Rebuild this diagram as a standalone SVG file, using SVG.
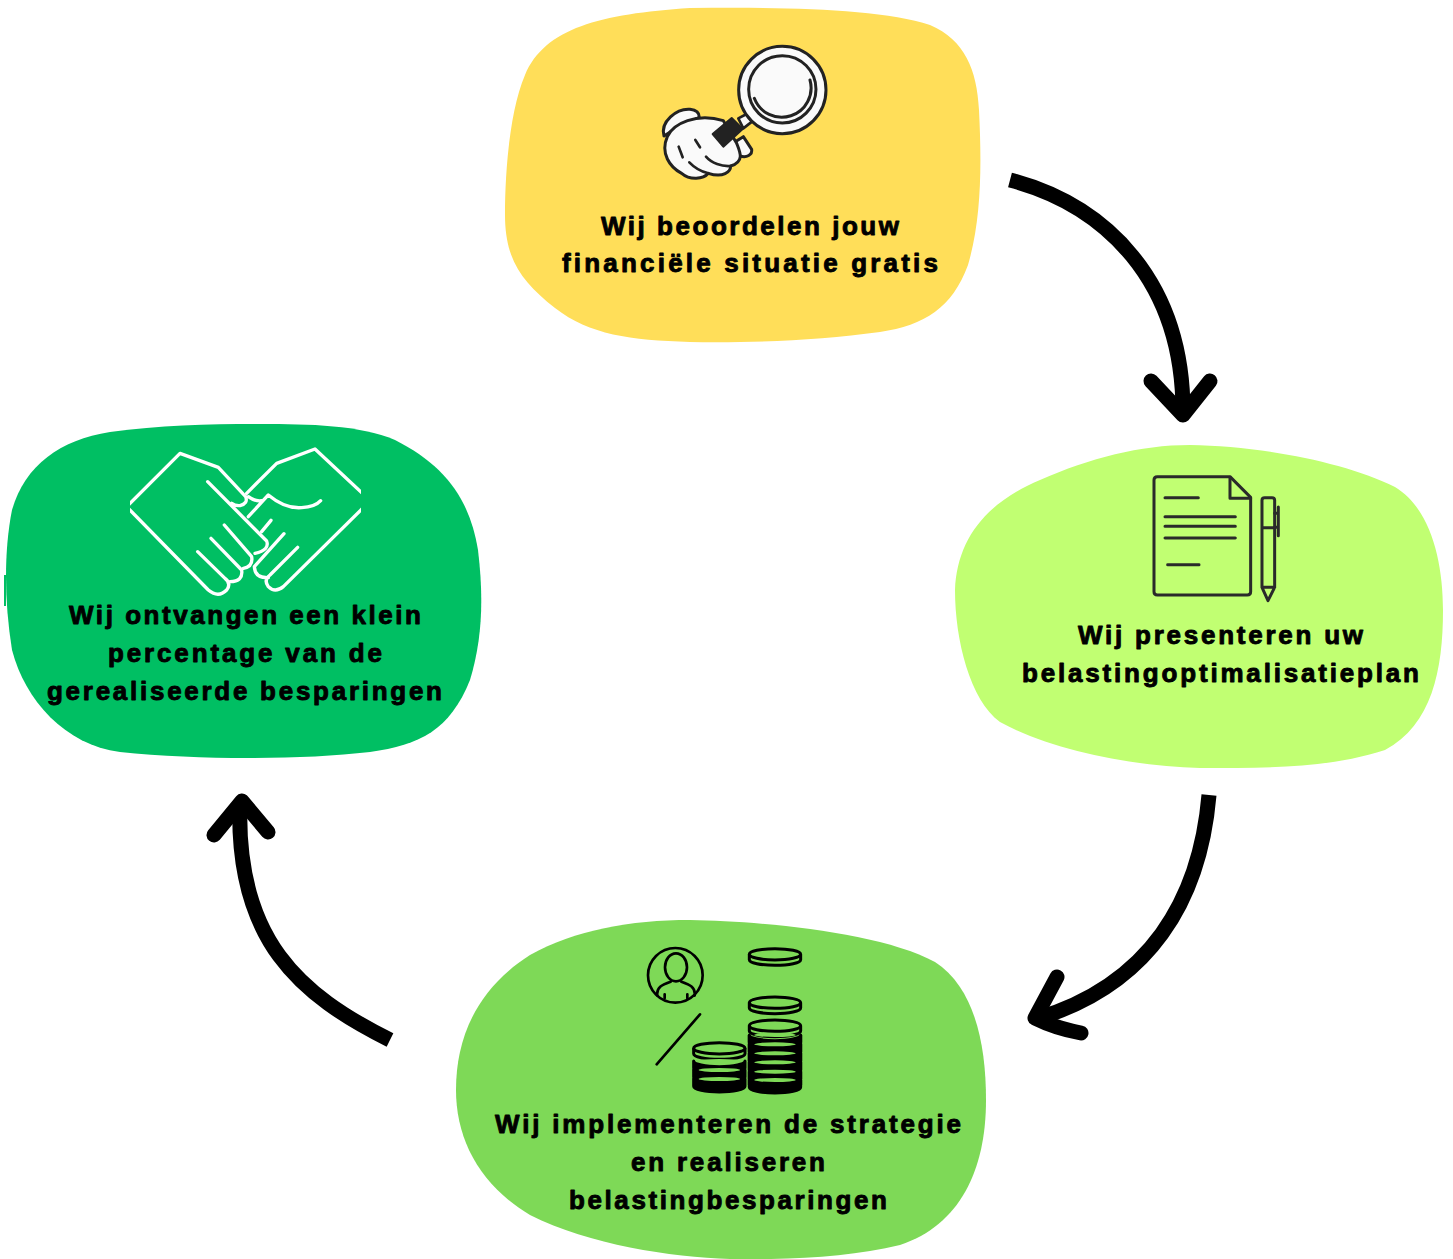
<svg xmlns="http://www.w3.org/2000/svg" width="1453" height="1259" viewBox="0 0 1453 1259">
<style>
text{font-family:"Liberation Sans",Arial,sans-serif;font-weight:700;font-size:26px;fill:#000;stroke:#000;stroke-width:.9;stroke-linejoin:round}
.ln{fill:none;stroke-linecap:round;stroke-linejoin:round}
.shaft{fill:none;stroke:#000;stroke-width:15}
.head{fill:none;stroke:#000;stroke-width:15;stroke-linecap:round;stroke-linejoin:round}
</style>
<defs>
<clipPath id="hc"><rect x="45" y="0" width="693" height="510"/></clipPath>
<g id="coin"><path d="M-77 0A77 17 0 0 1 77 0V16A77 17 0 0 1-77 16Z" fill="#7ED957" stroke="#000" stroke-width="9" stroke-linejoin="round"/><path d="M-77 0A77 17 0 0 0 77 0" fill="none" stroke="#000" stroke-width="9"/></g>
<g id="coinb"><path d="M-77 0A77 17 0 0 0 77 0V22A77 17 0 0 1-77 22Z" fill="#000" stroke="#000" stroke-width="9" stroke-linejoin="round"/><ellipse cx="0" cy="0" rx="62" ry="6" fill="#7ED957"/></g>
</defs>
<rect width="1453" height="1259" fill="#fff"/>
<g id="node-beoordelen">
<path fill="#FFDE59" d="M690 8C780 7 880 8 930 25C965 40 977 70 979 110C982 170 981 220 968 265C952 308 925 325 880 332C820 340 760 343 690 342C630 340 590 335 555 308C522 282 505 260 505 215C505 170 510 110 525 75C545 28 600 14 690 8Z"/>
<g transform="translate(640 30) scale(.3333)">
<path d="M295 265L320 252L336 275L310 295Z" fill="#fafafa" stroke="#222" stroke-width="8" stroke-linejoin="round"/>
<circle cx="427" cy="180" r="131" fill="#fafafa" stroke="#222" stroke-width="9"/>
<circle cx="427" cy="178" r="101" fill="#fafafa" stroke="#222" stroke-width="9"/>
<path class="ln" stroke="#222" stroke-width="9" d="M343 205A88 88 0 0 0 510 150"/>
<path fill="#fafafa" stroke="#222" stroke-width="9" stroke-linejoin="round" d="M72 318C60 275 110 235 150 238C170 240 178 250 178 262L100 300Z"/>
<path fill="#fafafa" stroke="#222" stroke-width="9" stroke-linejoin="round" d="M270 345L310 320L335 358C338 375 320 384 300 378Z"/>
<path fill="#fafafa" stroke="#222" stroke-width="9" stroke-linejoin="round" d="M82 320C100 280 170 248 250 272L290 340C300 365 315 395 272 408C272 425 250 445 205 430C190 448 150 452 125 430C90 412 60 370 82 320Z"/>
<path fill="#222" stroke="#222" stroke-width="6" stroke-linejoin="round" d="M218 312L275 264L308 297L250 350Z"/>
<path class="ln" stroke="#222" stroke-width="8" d="M116 350L128 382M166 330L180 352M148 397C165 415 185 425 205 430M198 380C215 400 245 410 272 408"/>
</g>
<text x="601" y="235" textLength="298" lengthAdjust="spacing">Wij beoordelen jouw</text>
<text x="562" y="272" textLength="376" lengthAdjust="spacing">financiële situatie gratis</text>
</g>
<g id="node-presenteren">
<path fill="#C1FF72" d="M1190 445C1260 446 1345 462 1395 487C1430 508 1443 560 1443 610C1443 670 1432 725 1385 750C1330 768 1270 768 1200 768C1130 766 1050 750 1000 722C970 700 955 640 955 590C957 540 985 503 1040 480C1090 458 1140 445 1190 445Z"/>
<g transform="translate(1130 460) scale(.3333)" class="ln" stroke="#2a2a2a" stroke-width="9">
<path d="M82 50H300L362 112V395Q362 405 352 405H82Q72 405 72 395V60Q72 50 82 50Z"/>
<path d="M300 52V115H362M105 113H205M105 170H316M105 199H316M105 234H316M113 314H207"/>
<path d="M404 113H426Q434 113 434 121V382H396V121Q396 113 404 113ZM396 203H434M396 382L414 422L434 382"/>
<path d="M445 141V227M434 160H445M434 202H445"/>
</g>
<text x="1078" y="644" textLength="285" lengthAdjust="spacing">Wij presenteren uw</text>
<text x="1022" y="682" textLength="397" lengthAdjust="spacing">belastingoptimalisatieplan</text>
</g>
<g id="node-implementeren">
<path fill="#7ED957" d="M690 920C760 921 880 932 935 962C975 988 986 1045 986 1100C986 1170 960 1225 900 1245C850 1257 790 1260 730 1259C670 1257 590 1245 530 1215C480 1185 456 1140 456 1090C456 1040 475 990 530 955C575 930 630 920 690 920Z"/>
<g transform="translate(630 935) scale(.3333)">
<g class="ln" stroke="#000" stroke-width="8">
<circle cx="136" cy="121" r="82"/>
<ellipse cx="138" cy="97" rx="33" ry="42"/>
<path d="M82 182C78 155 100 148 122 140M154 140C176 148 198 155 194 182M104 178V190M172 178V190M80 388L210 238"/>
</g>
<use href="#coin" x="435" y="58"/>
<use href="#coin" x="435" y="203"/>
<use href="#coin" x="435" y="272"/>
<use href="#coinb" x="435" y="300"/>
<use href="#coinb" x="435" y="328"/>
<use href="#coinb" x="435" y="355"/>
<use href="#coinb" x="435" y="382"/>
<use href="#coinb" x="435" y="410"/>
<use href="#coinb" x="435" y="435"/>
<path d="M358 300V450M512 300V450" stroke="#000" stroke-width="9" fill="none"/>
<use href="#coin" x="268" y="340"/>
<use href="#coinb" x="268" y="378"/>
<use href="#coinb" x="268" y="405"/>
<use href="#coinb" x="268" y="432"/>
</g>
<text x="495" y="1133" textLength="466" lengthAdjust="spacing">Wij implementeren de strategie</text>
<text x="631" y="1171" textLength="194" lengthAdjust="spacing">en realiseren</text>
<text x="569" y="1209" textLength="318" lengthAdjust="spacing">belastingbesparingen</text>
</g>
<g id="node-ontvangen">
<rect x="4" y="575" width="2" height="31" fill="#00BF63"/>
<path fill="#00BF63" d="M260 424C310 424 360 425 395 440C445 465 470 500 478 550C484 600 482 640 470 680C450 730 420 745 370 752C300 760 200 760 120 752C65 745 25 700 12 650C4 600 4 550 12 510C25 465 60 440 110 432C160 425 210 424 260 424Z"/>
<g transform="translate(115 435) scale(.3333)"><g clip-path="url(#hc)" class="ln" stroke="#fff" stroke-width="10">
<path d="M35 215L195 55L310 97L392 185Q400 205 375 212Q360 213 350 205"/>
<path d="M35 215L280 465Q310 490 335 465Q350 445 330 430L248 350"/>
<path d="M345 440Q385 440 380 405L288 310M385 400Q415 395 410 365L328 270M420 355Q465 345 455 318L278 140"/>
<path d="M748 180L600 42L485 85L395 175"/>
<path d="M748 215L505 455Q480 475 460 455Q445 435 465 420L548 337M460 428Q420 430 418 395L507 296M440 290L468 256M400 245L460 180Q510 222 560 218Q600 216 617 197M400 185Q420 200 440 197"/>
</g></g>
<text x="69" y="624" textLength="352" lengthAdjust="spacing">Wij ontvangen een klein</text>
<text x="108" y="662" textLength="274" lengthAdjust="spacing">percentage van de</text>
<text x="47" y="700" textLength="395" lengthAdjust="spacing">gerealiseerde besparingen</text>
</g>
<g id="connectors">
<path class="shaft" d="M1010 180C1105 205 1183 280 1183 412"/>
<path class="head" d="M1151 381L1183 415L1210 381"/>
<path class="shaft" d="M1209 795C1200 900 1150 985 1036 1019"/>
<path class="head" d="M1057 977L1035 1018Q1055 1028 1081 1033"/>
<path class="shaft" d="M390 1040C300 995 235 940 240 802"/>
<path class="head" d="M214 835L242 801L268 832"/>
</g>
</svg>
